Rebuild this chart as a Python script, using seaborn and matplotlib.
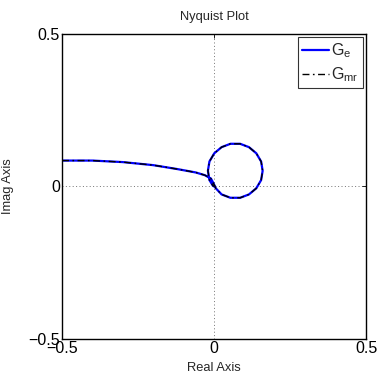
import numpy as np
import pandas as pd
import matplotlib
matplotlib.use("Agg")
import matplotlib.pyplot as plt
import seaborn as sns

# === Dados (Nyquist) ===
# ramo que vem de -inf ate a origem, depois o laco circular
ge_re = [-0.50, -0.40, -0.30, -0.20, -0.12, -0.06, -0.03, -0.010, -0.003, 0.002, 0.006,
         0.025, 0.054, 0.086, 0.115, 0.139, 0.155, 0.160, 0.155, 0.139, 0.115,
         0.086, 0.054, 0.025, 0.001, -0.015, -0.020, -0.015, -0.004, 0.000]
ge_im = [0.085, 0.085, 0.080, 0.070, 0.057, 0.046, 0.037, 0.026, 0.013, 0.003, -0.006,
         -0.026, -0.037, -0.037, -0.026, -0.006, 0.021, 0.0515, 0.082, 0.109, 0.129,
         0.140, 0.140, 0.129, 0.109, 0.082, 0.0515, 0.021, 0.003, 0.000]

gmr_re = list(ge_re)
gmr_im = list(ge_im)

ticks = [-0.5, 0, 0.5]
tick_labels = ["\u22120.5", "0", "0.5"]

sns.set_style("white")
plt.rcParams["font.family"] = ["Liberation Sans", "DejaVu Sans"]
plt.rcParams["mathtext.default"] = "regular"

df_e = pd.DataFrame({"re": ge_re, "im": ge_im})
df_mr = pd.DataFrame({"re": gmr_re, "im": gmr_im})

fig = plt.figure(figsize=(3.79, 3.74), dpi=100)
ax = fig.add_axes([0.1636, 0.0936, 0.8021, 0.8155])

sns.lineplot(data=df_e, x="re", y="im", sort=False, estimator=None, ax=ax,
             color="#0000ff", linewidth=1.6, label="$G_e$")
sns.lineplot(data=df_mr, x="re", y="im", sort=False, estimator=None, ax=ax,
             color="black", linewidth=1.0, dashes=False, label="$G_{mr}$")
ax.lines[1].set_dashes([5, 2.5, 1.2, 2.5])

ax.set_xlim(-0.5, 0.5)
ax.set_ylim(-0.5, 0.5)
ax.set_xticks(ticks)
ax.set_xticklabels(tick_labels)
ax.set_yticks(ticks)
ax.set_yticklabels(tick_labels)
ax.tick_params(direction="in", length=3, width=0.6, labelsize=11.5, pad=1.5,
               top=True, right=True, colors="black")
ax.grid(True, linestyle=(0, (1, 2.5)), linewidth=0.7, color="0.45")
for s in ax.spines.values():
    s.set_visible(True)
    s.set_color("black")
    s.set_linewidth(1.0)

ax.set_title("Nyquist Plot", fontsize=9.3, pad=10)
ax.set_xlabel("Real Axis", fontsize=9.3, labelpad=4)
ax.set_ylabel("Imag Axis", fontsize=9.3, labelpad=10)

leg = ax.legend(loc="upper right", fontsize=11.5, frameon=True, fancybox=False,
                edgecolor="black", borderaxespad=0.2, handlelength=1.7,
                handletextpad=0.15, borderpad=0.25, labelspacing=0.35)
leg.get_frame().set_linewidth(0.8)
leg.get_lines()[1].set_dashes([5, 2.5, 1.2, 2.5])

fig.savefig("out.png", dpi=100)
